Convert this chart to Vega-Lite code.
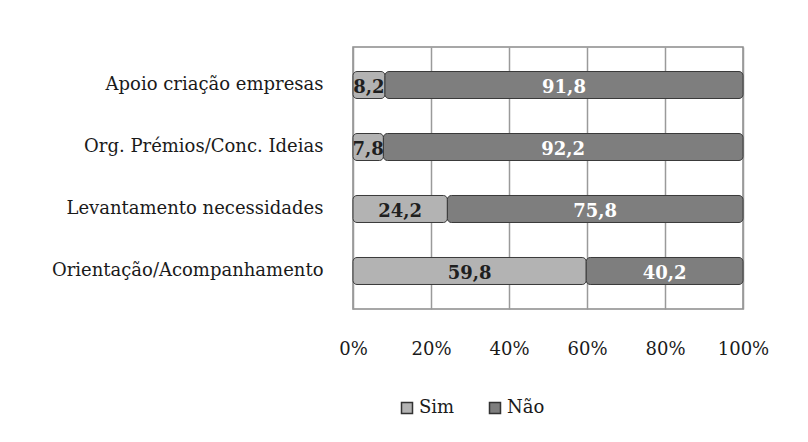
{
  "$schema": "https://vega.github.io/schema/vega-lite/v6.json",
  "width": 390,
  "height": 262,
  "autosize": "none",
  "padding": {"left": 353, "top": 47, "right": 65, "bottom": 133},
  "background": "white",
  "config": {
    "locale": {"number": {"decimal": ",", "thousands": ".", "grouping": [3], "currency": ["", " €"]}},
    "view": {"stroke": "#8a8a8a", "strokeWidth": 1.5},
    "font": "DejaVu Serif"
  },
  "data": {
    "values": [
      {"cat": "Apoio criação empresas", "resp": "Sim", "value": 8.2},
      {"cat": "Apoio criação empresas", "resp": "Não", "value": 91.8},
      {"cat": "Org. Prémios/Conc. Ideias", "resp": "Sim", "value": 7.8},
      {"cat": "Org. Prémios/Conc. Ideias", "resp": "Não", "value": 92.2},
      {"cat": "Levantamento necessidades", "resp": "Sim", "value": 24.2},
      {"cat": "Levantamento necessidades", "resp": "Não", "value": 75.8},
      {"cat": "Orientação/Acompanhamento", "resp": "Sim", "value": 59.8},
      {"cat": "Orientação/Acompanhamento", "resp": "Não", "value": 40.2}
    ]
  },
  "transform": [
    {"stack": "value", "groupby": ["cat"], "sort": [{"field": "resp", "order": "descending"}], "offset": "normalize", "as": ["x0", "x1"]},
    {"calculate": "(datum.x0 + datum.x1) / 2", "as": "xm"}
  ],
  "encoding": {
    "y": {
      "field": "cat",
      "type": "nominal",
      "sort": ["Apoio criação empresas", "Org. Prémios/Conc. Ideias", "Levantamento necessidades", "Orientação/Acompanhamento"],
      "scale": {"paddingInner": 0, "paddingOuter": 0.113},
      "axis": {"title": null, "ticks": false, "domain": false, "labelPadding": 30, "labelFontSize": 18, "labelFont": "DejaVu Serif", "labelColor": "#1a1a1a", "labelLimit": 400}
    }
  },
  "layer": [
    {
      "mark": {"type": "bar", "height": 27, "stroke": "#3a3a3a", "strokeWidth": 1, "cornerRadius": 4},
      "encoding": {
        "x": {
          "field": "x0",
          "type": "quantitative",
          "scale": {"domain": [0, 1]},
          "axis": {"title": null, "format": ".0%", "values": [0, 0.2, 0.4, 0.6, 0.8, 1], "ticks": false, "domain": false, "grid": true, "gridColor": "#9a9a9a", "gridWidth": 1.5, "labelPadding": 31, "labelFontSize": 18, "labelFont": "DejaVu Serif", "labelColor": "#1a1a1a", "labelFlush": false}
        },
        "x2": {"field": "x1"},
        "color": {
          "field": "resp",
          "type": "nominal",
          "sort": ["Sim", "Não"],
          "scale": {"domain": ["Sim", "Não"], "range": ["#b3b3b3", "#7e7e7e"]},
          "legend": {
            "title": null,
            "orient": "none",
            "legendX": 45,
            "legendY": 352,
            "direction": "horizontal",
            "symbolType": "square",
            "symbolSize": 121,
            "symbolStrokeColor": "#333333",
            "symbolStrokeWidth": 1.5,
            "labelFontSize": 18,
            "labelFont": "DejaVu Serif",
            "labelColor": "#1a1a1a",
            "labelOffset": 3,
            "columnPadding": 31
          }
        }
      }
    },
    {
      "mark": {"type": "text", "fontSize": 18, "fontWeight": "bold", "font": "DejaVu Serif", "baseline": "middle", "dy": 3},
      "encoding": {
        "x": {"field": "xm", "type": "quantitative"},
        "text": {"field": "value", "type": "quantitative", "format": ".1f"},
        "color": {"condition": {"test": "datum.resp === 'Sim'", "value": "#1f1f1f"}, "value": "#ffffff"}
      }
    }
  ]
}
